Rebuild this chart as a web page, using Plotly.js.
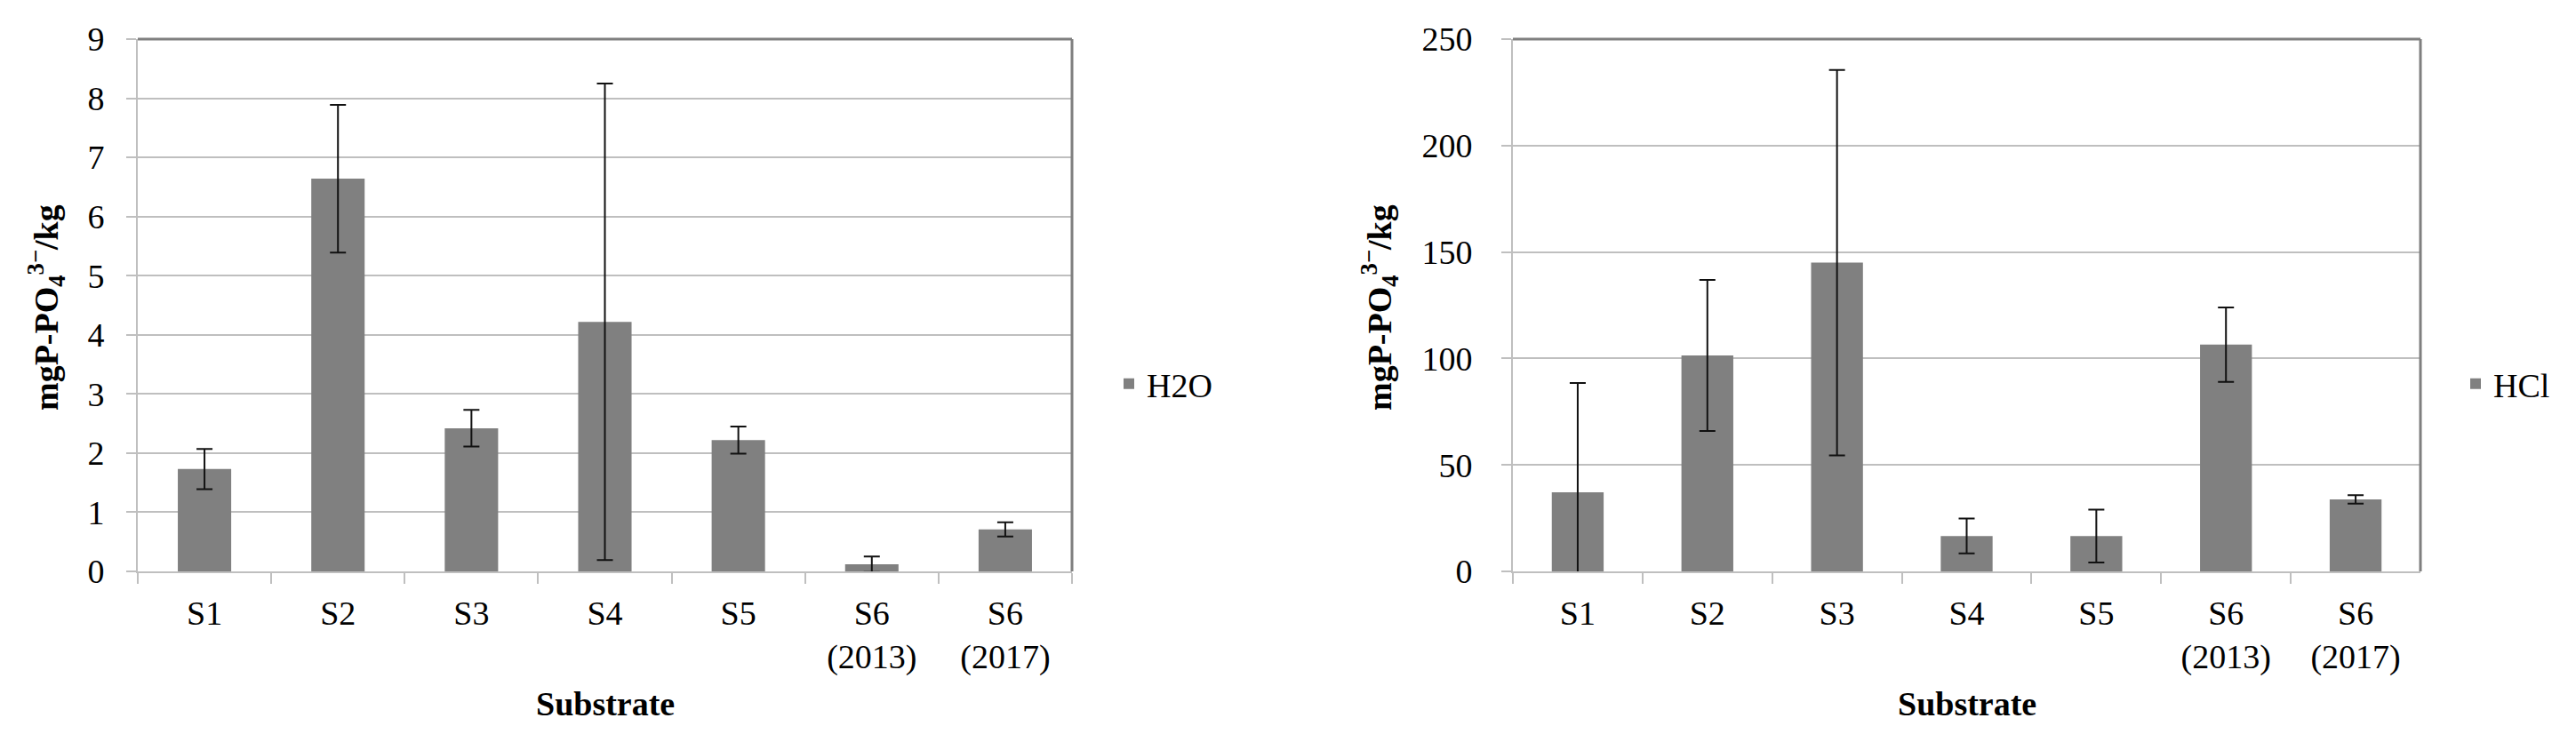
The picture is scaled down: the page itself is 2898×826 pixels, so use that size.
<!DOCTYPE html>
<html>
<head>
<meta charset="utf-8">
<script src="https://cdn.plot.ly/plotly-3.0.1.min.js"></script>
<style>
  body { margin: 0; background: white; }
  #chart { width: 2898px; height: 826px; }
</style>
</head>
<body>
<div id="chart"></div>
<script>
// categories
var substrates = ['S1', 'S2', 'S3', 'S4', 'S5', 'S6<br>(2013)', 'S6<br>(2017)'];

// water extraction (mgP-PO4/kg), mean and error
var h2oMean = [1.73, 6.64, 2.42, 4.22, 2.22, 0.12, 0.71];
var h2oErr = [0.34, 1.25, 0.31, 4.03, 0.23, 0.13, 0.12];

// HCl extraction
var hclMean = [37.1, 101.4, 145, 16.6, 16.6, 106.5, 33.8];
var hclErr = [51.4, 35.5, 90.5, 8.2, 12.4, 17.5, 2];

var W = 2898, H = 826;
var font = '"Liberation Serif", "DejaVu Serif", serif';
var grid = '#bfbfbf';
var dark = '#7f7f7f';

function px(x) { return x / W; }
function py(y) { return 1 - y / H; }

var data = [{
    type: 'bar', name: 'H2O', x: substrates, y: h2oMean,
    xaxis: 'x', yaxis: 'y', legend: 'legend',
    marker: {color: '#808080'},
    error_y: {type: 'data', array: h2oErr, visible: true, color: '#111', thickness: 2, width: 9}
}, {
    type: 'bar', name: 'HCl', x: substrates, y: hclMean,
    xaxis: 'x2', yaxis: 'y2', legend: 'legend2',
    marker: {color: '#808080'},
    error_y: {type: 'data', array: hclErr, visible: true, color: '#111', thickness: 2, width: 9}
}];

var xax = {
    type: 'category',
    showline: true, linecolor: grid, linewidth: 2,
    ticks: 'outside', tickson: 'boundaries', ticklen: 12, tickcolor: grid, tickwidth: 2,
    ticklabelstandoff: 12,
    tickfont: {family: font, size: 38, color: '#000'},
    showgrid: false, fixedrange: true
};
var yax = {
    showline: true, linecolor: grid, linewidth: 2,
    showgrid: true, gridcolor: grid, gridwidth: 2, zeroline: false,
    ticks: 'outside', ticklen: 11, tickcolor: grid, tickwidth: 2,
    tickfont: {family: font, size: 38, color: '#000'},
    fixedrange: true
};

var yTitle = '<b>mgP-PO<sub>4</sub><sup>3\u2212</sup>/kg</b>';

var layout = {
    width: W, height: H,
    margin: {l: 0, r: 0, t: 0, b: 0},
    paper_bgcolor: 'white', plot_bgcolor: 'white',
    font: {family: font, size: 38, color: '#000'},
    bargap: 0.6,
    showlegend: true,
    xaxis: Object.assign({}, xax, {domain: [px(155), px(1206)], anchor: 'y'}),
    yaxis: Object.assign({}, yax, {domain: [py(643), py(44)], anchor: 'x', range: [0, 9], dtick: 1, ticklabelstandoff: 17}),
    xaxis2: Object.assign({}, xax, {domain: [px(1702), px(2723)], anchor: 'y2'}),
    yaxis2: Object.assign({}, yax, {domain: [py(643), py(44)], anchor: 'x2', range: [0, 250], dtick: 50, ticklabelstandoff: 25}),
    legend: {
        x: px(1250), xanchor: 'left', y: py(432), yanchor: 'middle',
        font: {family: font, size: 38, color: '#000'}, bgcolor: 'rgba(0,0,0,0)'
    },
    legend2: {
        x: px(2765), xanchor: 'left', y: py(432), yanchor: 'middle',
        font: {family: font, size: 38, color: '#000'}, bgcolor: 'rgba(0,0,0,0)'
    },
    shapes: [
        // darker top and right edges of each plot area
        {type: 'line', xref: 'x domain', yref: 'y domain', x0: 0, x1: 1, y0: 1, y1: 1, line: {color: dark, width: 3}},
        {type: 'line', xref: 'x domain', yref: 'y domain', x0: 1, x1: 1, y0: 0, y1: 1, line: {color: dark, width: 3}},
        {type: 'line', xref: 'x2 domain', yref: 'y2 domain', x0: 0, x1: 1, y0: 1, y1: 1, line: {color: dark, width: 3}},
        {type: 'line', xref: 'x2 domain', yref: 'y2 domain', x0: 1, x1: 1, y0: 0, y1: 1, line: {color: dark, width: 3}}
    ],
    annotations: [
        {text: yTitle, xref: 'paper', yref: 'paper', x: px(52), y: py(346), textangle: -90,
         showarrow: false, xanchor: 'center', yanchor: 'middle',
         font: {family: font, size: 38, color: '#000'}},
        {text: yTitle, xref: 'paper', yref: 'paper', x: px(1552), y: py(346), textangle: -90,
         showarrow: false, xanchor: 'center', yanchor: 'middle',
         font: {family: font, size: 38, color: '#000'}},
        {text: '<b>Substrate</b>', xref: 'x domain', yref: 'paper', x: 0.5, y: py(792),
         showarrow: false, xanchor: 'center', yanchor: 'middle',
         font: {family: font, size: 38, color: '#000'}},
        {text: '<b>Substrate</b>', xref: 'x2 domain', yref: 'paper', x: 0.5, y: py(792),
         showarrow: false, xanchor: 'center', yanchor: 'middle',
         font: {family: font, size: 38, color: '#000'}}
    ]
};

Plotly.newPlot('chart', data, layout, {displayModeBar: false, staticPlot: true});
</script>
</body>
</html>
